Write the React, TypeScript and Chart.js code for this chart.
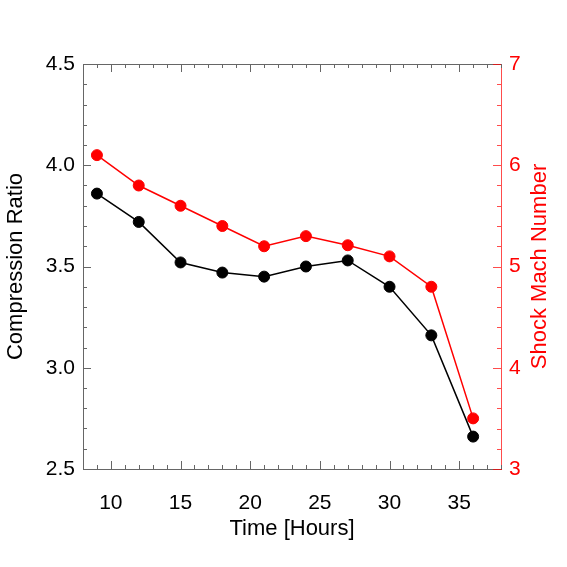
import React, { useEffect, useRef } from "react";
import { Chart, registerables } from "chart.js";

Chart.register(...registerables);

const hours = [9, 12, 15, 18, 21, 24, 27, 30, 33, 36];
const compressionRatio = [3.86, 3.72, 3.52, 3.47, 3.45, 3.50, 3.53, 3.40, 3.16, 2.66];
const machNumber = [6.10, 5.80, 5.60, 5.40, 5.20, 5.30, 5.21, 5.10, 4.80, 3.50];
const hourTicks = [10, 15, 20, 25, 30, 35];

const FONT = "'Liberation Sans', Arial, Helvetica, sans-serif";
const AXIS_GREY = "#666666";
const RED = "#ff0000";
const RED_AXIS = "rgba(255, 0, 0, 0.7)";

// inward IDL-style ticks plus the right-hand title, drawn from the chart's scales
const tickPlugin = {
    id: "inwardTicks",
    afterDraw(chart: any) {
        const { ctx, chartArea } = chart;
        const { left, right, top, bottom } = chartArea;
        const x = chart.scales.x;
        const y = chart.scales.y;
        const y2 = chart.scales.y2;
        ctx.save();
        ctx.lineWidth = 1;

        // top frame line
        ctx.strokeStyle = AXIS_GREY;
        ctx.beginPath();
        ctx.moveTo(left, top + 0.5);
        ctx.lineTo(right, top + 0.5);
        ctx.stroke();

        // x ticks, bottom and top
        for (let v = 8; v <= 38; v++) {
            const px = Math.round(x.getPixelForValue(v)) + 0.5;
            const len = v % 5 === 0 ? 8 : 4;
            ctx.beginPath();
            ctx.moveTo(px, bottom);
            ctx.lineTo(px, bottom - len);
            ctx.moveTo(px, top);
            ctx.lineTo(px, top + len);
            ctx.stroke();
        }

        // left ticks
        for (let i = 0; i <= 20; i++) {
            const v = 2.5 + i * 0.1;
            const py = Math.round(y.getPixelForValue(v)) + 0.5;
            const len = i % 5 === 0 ? 8 : 4;
            ctx.beginPath();
            ctx.moveTo(left, py);
            ctx.lineTo(left + len, py);
            ctx.stroke();
        }

        // right (red) ticks
        ctx.strokeStyle = RED_AXIS;
        for (let i = 0; i <= 20; i++) {
            const v = 3 + i * 0.2;
            const py = Math.round(y2.getPixelForValue(v)) + 0.5;
            const len = i % 5 === 0 ? 8 : 4;
            ctx.beginPath();
            ctx.moveTo(right, py);
            ctx.lineTo(right - len, py);
            ctx.stroke();
        }

        // right axis title, reading bottom to top like the left one
        ctx.translate(y2.right - 27, (top + bottom) / 2);
        ctx.rotate(-Math.PI / 2);
        ctx.fillStyle = RED;
        ctx.font = `22px ${FONT}`;
        ctx.textAlign = "center";
        ctx.textBaseline = "middle";
        ctx.fillText("Shock Mach Number", 0, 0);
        ctx.restore();
    },
};

export default function App() {
    const canvas = useRef<HTMLCanvasElement>(null);

    useEffect(() => {
        const ctxt = canvas.current!.getContext("2d")!;
        const chart = new Chart(ctxt, {
            type: "line",
            data: {
                datasets: [
                    {
                        label: "Compression Ratio",
                        data: hours.map((h, i) => ({ x: h, y: compressionRatio[i] })),
                        yAxisID: "y",
                        borderColor: "#000000",
                        backgroundColor: "#000000",
                        borderWidth: 1.5,
                        pointRadius: 5.5,
                        pointBorderWidth: 1,
                        pointBorderColor: "#000000",
                        tension: 0,
                    },
                    {
                        label: "Shock Mach Number",
                        data: hours.map((h, i) => ({ x: h, y: machNumber[i] })),
                        yAxisID: "y2",
                        borderColor: RED,
                        backgroundColor: RED,
                        borderWidth: 1.5,
                        pointRadius: 5.5,
                        pointBorderWidth: 1,
                        pointBorderColor: RED,
                        tension: 0,
                    },
                ],
            },
            options: {
                animation: false,
                responsive: true,
                maintainAspectRatio: false,
                layout: { padding: { top: 64, left: 0, right: 0, bottom: 0 } },
                plugins: {
                    legend: { display: false },
                    tooltip: { enabled: false },
                },
                scales: {
                    x: {
                        type: "linear",
                        position: "bottom",
                        min: 8,
                        max: 38,
                        grid: { display: false, drawTicks: false },
                        border: { display: true, color: AXIS_GREY, width: 1 },
                        afterBuildTicks: (s: any) => {
                            s.ticks = hourTicks.map((v) => ({ value: v }));
                        },
                        ticks: {
                            padding: 22,
                            color: "#000000",
                            font: { family: FONT, size: 21 },
                            callback: (v: any) => String(v),
                        },
                        title: {
                            display: true,
                            text: "Time [Hours]",
                            color: "#000000",
                            font: { family: FONT, size: 22 },
                            padding: { top: 0, bottom: 25 },
                        },
                        afterFit: (s: any) => { s.height = 98; },
                    },
                    y: {
                        type: "linear",
                        position: "left",
                        min: 2.5,
                        max: 4.5,
                        grid: { display: false, drawTicks: false },
                        border: { display: true, color: AXIS_GREY, width: 1 },
                        ticks: {
                            stepSize: 0.5,
                            padding: 8,
                            color: "#000000",
                            font: { family: FONT, size: 21 },
                            callback: (v: any) => Number(v).toFixed(1),
                        },
                        title: {
                            display: true,
                            text: "Compression Ratio",
                            color: "#000000",
                            font: { family: FONT, size: 22 },
                            padding: { top: 3, bottom: 0 },
                        },
                        afterFit: (s: any) => { s.width = 83; },
                    },
                    y2: {
                        type: "linear",
                        position: "right",
                        min: 3,
                        max: 7,
                        grid: { display: false, drawTicks: false },
                        border: { display: true, color: RED_AXIS, width: 1 },
                        ticks: {
                            stepSize: 1,
                            padding: 8,
                            color: RED,
                            font: { family: FONT, size: 21 },
                            callback: (v: any) => String(v),
                        },
                        title: { display: false },
                        afterFit: (s: any) => { s.width = 66; },
                    },
                },
            },
            plugins: [tickPlugin],
        });
        return () => {
            chart.destroy();
        };
    }, []);

    return (
        <div style={{ position: "fixed", left: 0, top: 0, width: 567, height: 567, background: "#ffffff" }}>
            <canvas ref={canvas} />
        </div>
    );
}
